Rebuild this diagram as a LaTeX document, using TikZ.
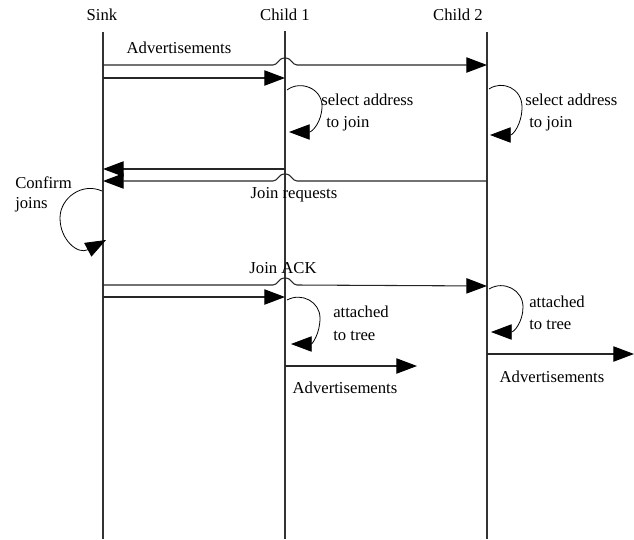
\documentclass[tikz,border=0pt]{standalone}
\usepackage{fontspec}
\setmainfont{Liberation Serif}
\usetikzlibrary{arrows.meta}
\begin{document}
\begin{tikzpicture}[x=0.75pt,y=-0.75pt,
  lifeline/.style={draw=black!80,line width=0.9pt},
  msg/.style={draw=black!85,line width=0.8pt},
  arr/.style={msg,-{Triangle[length=15.5pt,width=11.5pt,fill=black,color=black]}},
  loopline/.style={draw=black,line width=0.6pt,-{Triangle[length=15.5pt,width=11.5pt]}},
  lbl/.style={inner sep=0pt,font=\fontsize{12.5}{14}\selectfont}]
\useasboundingbox (0,0) rectangle (634,539);
% lifeline ends
\coordinate (sinkT) at (103,32);  \coordinate (sinkB) at (103,539);
\coordinate (c1T) at (285,31);    \coordinate (c1B) at (285,539);
\coordinate (c2T) at (487,32);    \coordinate (c2B) at (487,539);
\node[lbl] (sinkL) at (102,15) {Sink};
\node[lbl] (c1L) at (285,15) {Child 1};
\node[lbl] (c2L) at (458,15) {Child 2};
\draw[lifeline] (sinkT) -- (sinkB);
\draw[lifeline] (c1T) -- (c1B);
\draw[lifeline] (c2T) -- (c2B);
% Advertisements from sink
\node[lbl] (adv0) at (179,48) {Advertisements};
\coordinate (a1s) at (103,65); \coordinate (a1e) at (487,65);
\draw[arr] (a1s) -- (273,65) .. controls (278,65) and (278,58) .. (285,58)
  .. controls (292,58) and (292,65) .. (297,65) -- (a1e);
\coordinate (a2s) at (103,78); \coordinate (a2e) at (285,78);
\draw[arr] (a2s) -- (a2e);
% select address loops
\coordinate (l1s) at (287,90); \coordinate (l1e) at (289,132);
\draw[loopline] (l1s) .. controls (300,80) and (322,88) .. (322,106)
  .. controls (322,122) and (312,132) .. (l1e);
\node[lbl,anchor=west] (sa1) at (321,100) {select address};
\node[lbl,anchor=west] (tj1) at (326,124) {to join};
\coordinate (l2s) at (489,89); \coordinate (l2e) at (490,135);
\draw[loopline] (l2s) .. controls (502,80) and (522,88) .. (522,107)
  .. controls (522,124) and (513,135) .. (l2e);
\node[lbl,anchor=west] (sa2) at (525,100) {select address};
\node[lbl,anchor=west] (tj2) at (529,124) {to join};
% Join requests
\coordinate (j1s) at (285,169); \coordinate (j1e) at (103,169);
\draw[arr] (j1s) -- (j1e);
\coordinate (j2s) at (487,181); \coordinate (j2e) at (103,181);
\draw[arr] (j2s) -- (297,181) .. controls (292,181) and (292,174) .. (285,174)
  .. controls (278,174) and (278,181) .. (273,181) -- (j2e);
\node[lbl] (jr) at (294,195) {Join requests};
% Confirm joins
\node[lbl,anchor=west] (cf) at (15,183) {Confirm};
\node[lbl,anchor=west] (jn) at (15,205) {joins};
\coordinate (cls) at (102,191); \coordinate (cle) at (106,240);
\draw[loopline] (cls) .. controls (82,182) and (60,198) .. (60,218)
  .. controls (60,240) and (78,255) .. (cle);
% Join ACK
\node[lbl] (ack) at (283,268) {Join ACK};
\coordinate (k1s) at (103,285); \coordinate (k1e) at (487,286);
\draw[arr] (k1s) -- (273,285) .. controls (278,285) and (278,278) .. (285,278)
  .. controls (292,278) and (292,285) .. (297,285) -- (k1e);
\coordinate (k2s) at (103,297); \coordinate (k2e) at (285,297);
\draw[arr] (k2s) -- (k2e);
% attached to tree loops
\coordinate (t1s) at (287,300); \coordinate (t1e) at (291,344);
\draw[loopline] (t1s) .. controls (302,292) and (320,302) .. (320,318)
  .. controls (320,334) and (312,344) .. (t1e);
\node[lbl,anchor=west] (at1) at (333,312) {attached};
\node[lbl,anchor=west] (tt1) at (333,336) {to tree};
\coordinate (t2s) at (489,289); \coordinate (t2e) at (491,332);
\draw[loopline] (t2s) .. controls (504,280) and (523,290) .. (523,307)
  .. controls (523,322) and (514,332) .. (t2e);
\node[lbl,anchor=west] (at2) at (529,302) {attached};
\node[lbl,anchor=west] (tt2) at (529,325) {to tree};
% Advertisements from children
\coordinate (d1s) at (285,366); \coordinate (d1e) at (417,366);
\draw[arr] (d1s) -- (d1e);
\node[lbl] (adv1) at (345,388) {Advertisements};
\coordinate (d2s) at (487,354); \coordinate (d2e) at (634,354);
\draw[arr] (d2s) -- (d2e);
\node[lbl] (adv2) at (552,377) {Advertisements};
\end{tikzpicture}
\end{document}
